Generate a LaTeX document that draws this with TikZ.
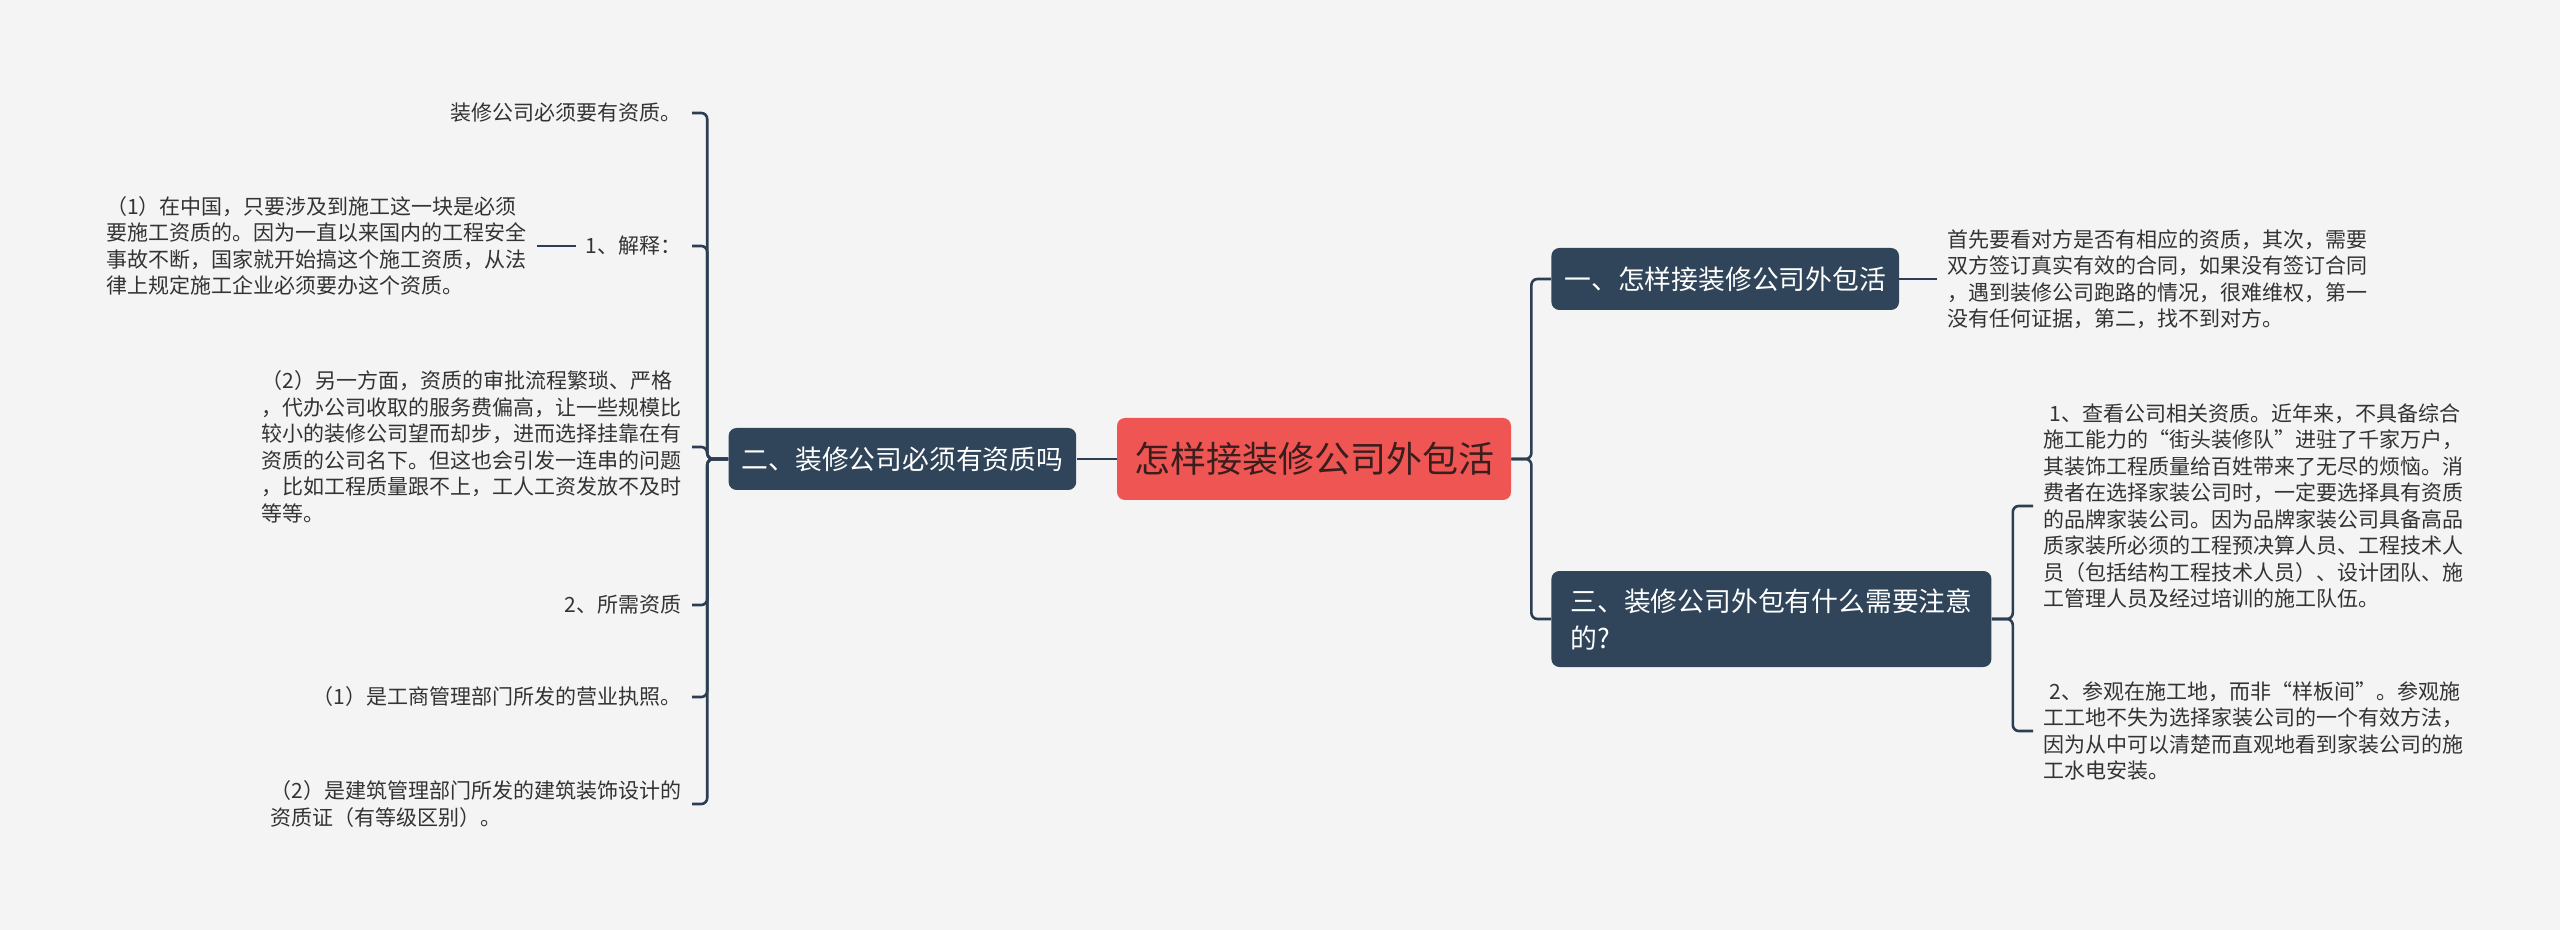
\documentclass[tikz,border=0pt]{standalone}
\usepackage{fontspec}
\setmainfont{Noto Sans CJK SC}
\usetikzlibrary{calc, positioning}
\definecolor{cBg}{RGB}{244,244,244}
\definecolor{cNavy}{RGB}{48,69,90}
\definecolor{cLine}{RGB}{44,62,82}
\definecolor{cRoot}{RGB}{239,86,83}
\definecolor{cRootTxt}{RGB}{58,30,30}
\definecolor{cNote}{RGB}{51,51,51}
\tikzset{
  root/.style={rectangle, rounded corners=4pt, fill=cRoot, text=cRootTxt,
               font=\fontsize{18}{22}\selectfont, minimum height=41pt, inner xsep=8.5pt},
  topic/.style={rectangle, rounded corners=4pt, fill=cNavy, text=white, align=left,
                font=\fontsize{13.4}{18.5}\selectfont, minimum height=31pt, inner xsep=6.5pt},
  note/.style={text=cNote, font=\fontsize{10.5}{13.25}\selectfont, align=left,
               inner xsep=5pt, inner ysep=2pt},
  conn/.style={draw=cLine, line width=1.3pt, rounded corners=3pt},
}

\begin{document}
\begin{tikzpicture}[x=0.5pt, y=-0.5pt]

\fill[cBg] (0,0) rectangle (2560,930);
\useasboundingbox (0,0) rectangle (2560,930);

%% ============================================================
%% ROOT AND TOPICS
%% ============================================================
\node[root] (root) at (1314,459) {怎样接装修公司外包活};

\node[topic, left=20pt of root] (q2) {二、装修公司必须有资质吗};

\node[topic, anchor=west] (q1) at (1551,279) {一、怎样接装修公司外包活};

\node[topic, anchor=west, inner xsep=9.5pt, minimum height=48pt] (q3) at (1551,619)
  {三、装修公司外包有什么需要注意\\的?};

%% ============================================================
%% LEFT BRANCH  (topic 二)
%% ============================================================
\node[note, anchor=east] (lq0) at (692,113) {装修公司必须要有资质。};

\node[note, anchor=east] (lexp) at (692,246) {1、解释：};

\node[note, left=19.5pt of lexp] (lexp1) {%
  （1）在中国，只要涉及到施工这一块是必须\\
  要施工资质的。因为一直以来国内的工程安全\\
  事故不断，国家就开始搞这个施工资质，从法\\
  律上规定施工企业必须要办这个资质。};

\node[note, anchor=east] (lq2) at (692,447) {%
  （2）另一方面，资质的审批流程繁琐、严格\\
  ，代办公司收取的服务费偏高，让一些规模比\\
  较小的装修公司望而却步，进而选择挂靠在有\\
  资质的公司名下。但这也会引发一连串的问题\\
  ，比如工程质量跟不上，工人工资发放不及时\\
  等等。};

\node[note, anchor=east] (lreq) at (692,605) {2、所需资质};

\node[note, anchor=east] (lreq1) at (692,697) {（1）是工商管理部门所发的营业执照。};

\node[note, anchor=east] (lreq2) at (692,804) {%
  （2）是建筑管理部门所发的建筑装饰设计的\\
  资质证（有等级区别）。};

%% ============================================================
%% RIGHT BRANCHES  (topics 一 and 三)
%% ============================================================
\node[note, right=19pt of q1] (q1a) {%
  首先要看对方是否有相应的资质，其次，需要\\
  双方签订真实有效的合同，如果没有签订合同\\
  ，遇到装修公司跑路的情况，很难维权，第一\\
  没有任何证据，第二，找不到对方。};

\node[note, anchor=west] (rc1) at (2033,506) {%
  \hspace*{3pt}1、查看公司相关资质。近年来，不具备综合\\
  施工能力的“街头装修队”进驻了千家万户，\\
  其装饰工程质量给百姓带来了无尽的烦恼。消\\
  费者在选择家装公司时，一定要选择具有资质\\
  的品牌家装公司。因为品牌家装公司具备高品\\
  质家装所必须的工程预决算人员、工程技术人\\
  员（包括结构工程技术人员）、设计团队、施\\
  工管理人员及经过培训的施工队伍。};

\node[note, anchor=west] (rc2) at (2033,731) {%
  \hspace*{3pt}2、参观在施工地，而非“样板间”。参观施\\
  工工地不失为选择家装公司的一个有效方法，\\
  因为从中可以清楚而直观地看到家装公司的施\\
  工水电安装。};

%% ============================================================
%% CONNECTORS
%% ============================================================
\coordinate (lspine) at ($(q2.west)+(-21,0)$);
\coordinate (rspine) at ($(root.east)+(20,0)$);
\coordinate (tspine) at ($(q3.east)+(21,0)$);

\draw[conn] (root.west) -- (q2.east);
\foreach \c in {lq0,lexp,lq2,lreq,lreq1,lreq2}
  \draw[conn] (q2.west) -- (lspine) |- (\c.east);
\draw[conn] (lexp.west) -- (lexp1.east);

\foreach \c in {q1,q3}
  \draw[conn] (root.east) -- (rspine) |- (\c.west);
\draw[conn] (q1.east) -- (q1a.west);

\foreach \c in {rc1,rc2}
  \draw[conn] (q3.east) -- (tspine) |- (\c.west);

\end{tikzpicture}
\end{document}
